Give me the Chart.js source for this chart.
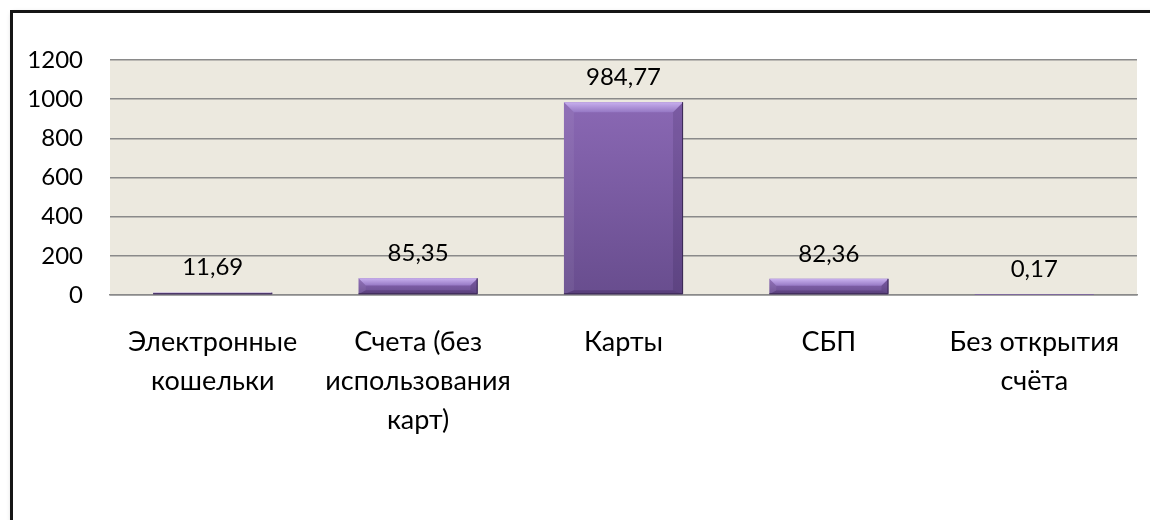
<!DOCTYPE html>
<html lang="ru">
<head>
<meta charset="utf-8">
<title>Платежи</title>
<script src="https://cdn.jsdelivr.net/npm/chart.js@4.4.1/dist/chart.umd.min.js"></script>
<style>
  html, body { margin: 0; padding: 0; background: #fff; overflow: hidden; }
  body { width: 1150px; height: 520px; position: relative; }
  .frame {
    position: absolute; left: 10px; top: 10px; width: 1170px; height: 560px;
    border: 3px solid #151515; box-shadow: 2px 3px 5px rgba(0,0,0,0.28);
  }
  #chart { position: absolute; left: 0; top: 0; }
</style>
</head>
<body>
<div class="frame"></div>
<canvas id="chart" width="1150" height="520"></canvas>
<script>
// data
const categories = [
  ['Электронные', 'кошельки'],
  ['Счета (без', 'использования', 'карт)'],
  'Карты',
  'СБП',
  ['Без открытия', 'счёта']
];
const values = [11.69, 85.35, 984.77, 82.36, 0.17];
const yTicks = [0, 200, 400, 600, 800, 1000, 1200];

const FONT = 'Lato, "Open Sans", sans-serif';

// beige plot background
const plotBg = {
  id: 'plotBg',
  beforeDraw(chart) {
    const a = chart.chartArea;
    const ctx = chart.ctx;
    ctx.save();
    ctx.fillStyle = '#ECE9DF';
    ctx.fillRect(a.left, a.top, a.right - a.left, a.bottom - a.top);
    ctx.restore();
  }
};

// bevel edges on bars + value labels
const bevel = {
  id: 'bevel',
  afterDatasetsDraw(chart) {
    const ctx = chart.ctx;
    const meta = chart.getDatasetMeta(0);
    meta.data.forEach((el, i) => {
      const p = el.getProps(['x', 'y', 'base', 'width'], true);
      const l = p.x - p.width / 2, r = p.x + p.width / 2;
      const t = Math.min(p.y, p.base), b = Math.max(p.y, p.base);
      const h = b - t;
      const s = Math.min(10, h / 2.2);
      const sb = Math.min(4, h / 4);
      ctx.save();
      if (h > 1) {
        // top
        let g = ctx.createLinearGradient(0, t, 0, t + s);
        g.addColorStop(0, '#c8b0ee');
        g.addColorStop(1, '#9678c4');
        ctx.fillStyle = g;
        ctx.beginPath();
        ctx.moveTo(l, t); ctx.lineTo(r, t); ctx.lineTo(r - s, t + s); ctx.lineTo(l + s, t + s);
        ctx.closePath(); ctx.fill();
        // left
        ctx.fillStyle = 'rgba(255,255,255,0.06)';
        ctx.beginPath();
        ctx.moveTo(l, t); ctx.lineTo(l + s, t + s); ctx.lineTo(l + s, b - sb); ctx.lineTo(l, b);
        ctx.closePath(); ctx.fill();
        // right
        ctx.fillStyle = 'rgba(20,0,40,0.12)';
        ctx.beginPath();
        ctx.moveTo(r, t); ctx.lineTo(r - s, t + s); ctx.lineTo(r - s, b - sb); ctx.lineTo(r, b);
        ctx.closePath(); ctx.fill();
        // bottom
        ctx.fillStyle = 'rgba(20,0,40,0.18)';
        ctx.beginPath();
        ctx.moveTo(l, b); ctx.lineTo(r, b); ctx.lineTo(r - s, b - sb); ctx.lineTo(l + s, b - sb);
        ctx.closePath(); ctx.fill();
        // dark outline right / bottom
        ctx.strokeStyle = '#3b2a55';
        ctx.lineWidth = 1;
        ctx.beginPath();
        ctx.moveTo(r - 0.5, t); ctx.lineTo(r - 0.5, b - 0.5); ctx.lineTo(l, b - 0.5);
        ctx.stroke();
      }
      // value label
      ctx.fillStyle = '#000';
      ctx.font = '24px ' + FONT;
      ctx.textAlign = 'center';
      ctx.textBaseline = 'middle';
      ctx.fillText(String(values[i]).replace('.', ','), p.x, t - 25);
      ctx.restore();
    });
  }
};

function barFill(context) {
  const chart = context.chart;
  if (!chart.chartArea || context.parsed == null) return '#7d5fa6';
  const y = chart.scales.y;
  const top = y.getPixelForValue(context.parsed.y);
  const base = y.getPixelForValue(0);
  if (base - top < 1) return '#7a5ea3';
  const g = chart.ctx.createLinearGradient(0, top, 0, base);
  g.addColorStop(0, '#8a68b4');
  g.addColorStop(1, '#684d8e');
  return g;
}

new Chart(document.getElementById('chart'), {
  type: 'bar',
  data: {
    labels: categories,
    datasets: [{
      data: values,
      backgroundColor: barFill,
      borderWidth: 0,
      categoryPercentage: 1,
      barPercentage: 0.58
    }]
  },
  plugins: [plotBg, bevel],
  options: {
    responsive: false,
    animation: false,
    layout: { padding: { top: 60, right: 13, left: 0, bottom: 0 } },
    plugins: { legend: { display: false }, tooltip: { enabled: false } },
    scales: {
      x: {
        grid: { display: false },
        border: { display: true, color: '#8a8a8a', width: 1.5 },
        ticks: {
          color: '#000',
          padding: 20,
          maxRotation: 0,
          autoSkip: false,
          font: { family: FONT, size: 27, lineHeight: 1.44 }
        },
        afterFit(scale) { scale.height = 225; }
      },
      y: {
        min: 0,
        max: 1200,
        afterBuildTicks(scale) { scale.ticks = yTicks.map(v => ({ value: v })); },
        grid: { color: '#8a8a8a', lineWidth: 1.5, drawTicks: false },
        border: { display: false },
        ticks: {
          color: '#000',
          padding: 27,
          font: { family: FONT, size: 24 },
          callback: v => String(v)
        },
        afterFit(scale) { scale.width = 110; }
      }
    }
  }
});
</script>
</body>
</html>
